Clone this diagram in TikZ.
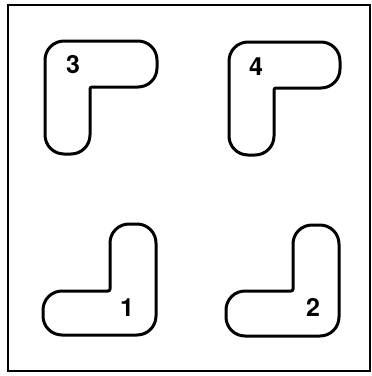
\documentclass[tikz,border=0pt]{standalone}
\usepackage{fontspec}
\setsansfont{TeX Gyre Heros}
\tikzset{
  piece/.style={line width=3pt,line join=round},
  num/.style={font=\sffamily\bfseries\fontsize{25}{25}\selectfont,inner sep=0pt}
}
\begin{document}
\begin{tikzpicture}[x=1pt,y=-1pt]
  \useasboundingbox (0,0) rectangle (372,376);
  \draw[line width=1.4pt] (8,5) rectangle (370,371);
  % upper pieces
  \draw[piece,rounded corners=19pt] (45,41) -- (157,41) -- (157,87) [rounded corners=2pt] -- (90,87) [rounded corners=19pt] -- (90,154) -- (45,154) -- cycle;
  \draw[piece,rounded corners=19pt] (229,42) -- (340,42) -- (340,88) [rounded corners=2pt] -- (274,88) [rounded corners=19pt] -- (274,155) -- (229,155) -- cycle;
  % lower pieces
  \draw[piece,rounded corners=19pt] (110,291) -- (110,224) -- (156,224) -- (156,335) -- (43,335) -- (43,291) [rounded corners=2pt] -- cycle;
  \draw[piece,rounded corners=19pt] (293,291) -- (293,225) -- (339,225) -- (339,336) -- (226,336) -- (226,291) [rounded corners=2pt] -- cycle;
  \node[num] (n3) at (73,65) {3};
  \node[num] (n4) at (256,67) {4};
  \node[num] (n1) at (127,308) {1};
  \node[num] (n2) at (313,307) {2};
\end{tikzpicture}
\end{document}
